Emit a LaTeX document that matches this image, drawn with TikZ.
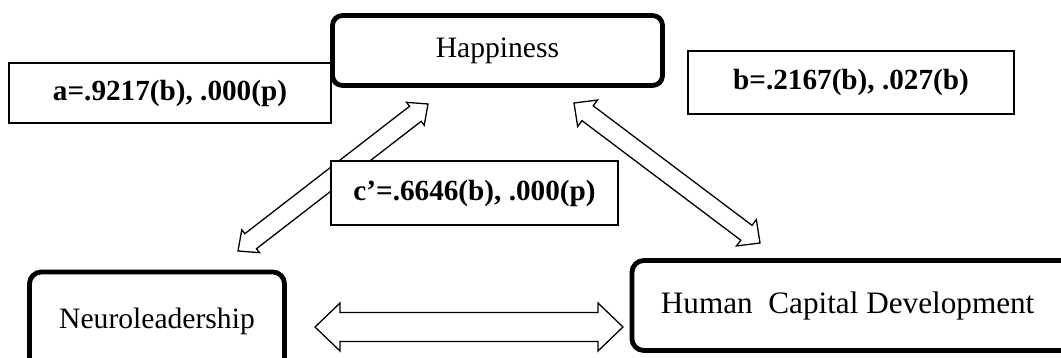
\documentclass[tikz,border=0pt]{standalone}
\usepackage{fontspec}
\setmainfont{Liberation Serif}
\usetikzlibrary{calc}

% hollow arrow with a head at both ends: #1,#2 tips, #3 half shaft, #4 half head, #5 head length
\newcommand{\dblblock}[5]{%
  \draw[blockarrow] (#1)
    -- ($(#1)!#5!(#2)!#4!90:(#2)$)
    -- ($(#1)!#5!(#2)!#3!90:(#2)$)
    -- ($(#2)!#5!(#1)!#3!-90:(#1)$)
    -- ($(#2)!#5!(#1)!#4!-90:(#1)$)
    -- (#2)
    -- ($(#2)!#5!(#1)!#4!90:(#1)$)
    -- ($(#2)!#5!(#1)!#3!90:(#1)$)
    -- ($(#1)!#5!(#2)!#3!-90:(#2)$)
    -- ($(#1)!#5!(#2)!#4!-90:(#2)$)
    -- cycle;}

\begin{document}
\begin{tikzpicture}[x=0.5pt, y=-0.5pt,
  mainbox/.style={rectangle, draw, line width=2.4pt, rounded corners=5pt, fill=white, align=center, font=\fontsize{14.8}{18}\selectfont, inner sep=0pt},
  coefbox/.style={rectangle, draw, line width=0.8pt, fill=white, align=center, font=\fontsize{14.6}{18}\selectfont\bfseries, inner sep=0pt},
  blockarrow/.style={fill=white, line width=0.65pt, line join=miter},
]
\useasboundingbox (0,0) rectangle (1061,358);
\clip (0,0) rectangle (1061,358);

% Variables
\node[mainbox, minimum width=165pt, minimum height=35pt] (hap) at (497.5, 50.5) {Happiness};
\node[mainbox, rounded corners=6pt, anchor=north, text width=127.5pt, minimum height=56pt, text depth=10pt] (neuro) at (157, 269.5) {Neuroleadership};
\node[mainbox, rounded corners=6pt, anchor=west, text width=205pt, inner xsep=14.5pt, align=flush left, minimum height=45pt, font=\fontsize{15.6}{19}\selectfont] (hcd) at (629.5, 305.5) {Human\ \ Capital Development};

% Arrow tips
\coordinate (nl-top) at (238, 251);
\coordinate (hap-left) at (428, 104);
\coordinate (hap-right) at (574, 103);
\coordinate (hcd-top) at (760, 243);
\coordinate (nl-right) at (315, 327);
\coordinate (hcd-left) at (623, 327);

% Paths
\dblblock{nl-top}{hap-left}{4.75pt}{7.25pt}{8pt}
\dblblock{hap-right}{hcd-top}{4.65pt}{8.25pt}{8.5pt}
\dblblock{nl-right}{hcd-left}{7.25pt}{12pt}{12.5pt}

% Coefficients
\node[coefbox, minimum width=161pt, minimum height=30pt] (coef-a) at (170, 93) {a=.9217(b), .000(p)};
\node[coefbox, minimum width=163pt, minimum height=31.5pt] (coef-b) at (851, 82.5) {b=.2167(b), .027(b)};
\node[coefbox, minimum width=143.5pt, minimum height=32pt] (coef-c) at (474.5, 193) {c’=.6646(b), .000(p)};

\end{tikzpicture}
\end{document}
